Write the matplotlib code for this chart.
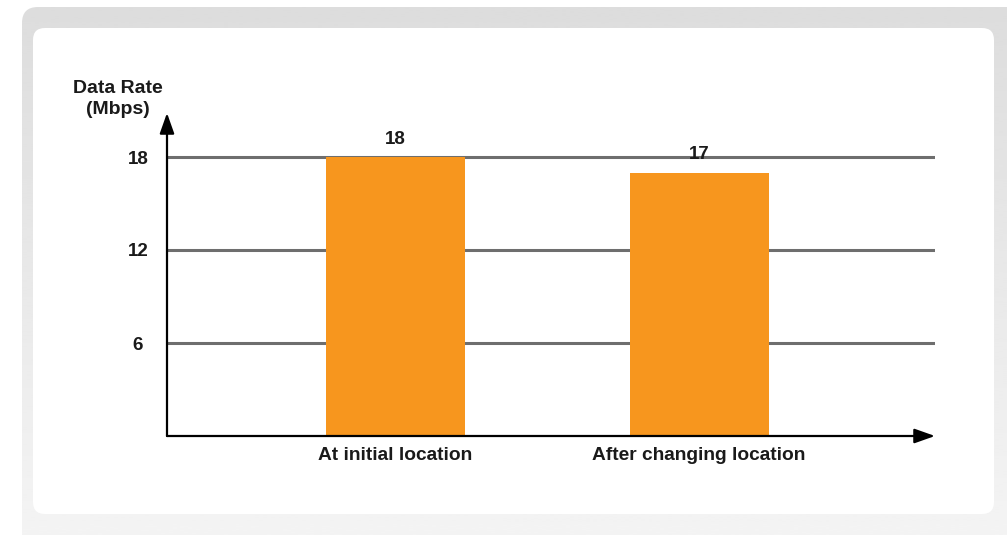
import numpy as np
import matplotlib.pyplot as plt
from matplotlib.patches import FancyBboxPatch

categories = ["At initial location", "After changing location"]
data_rate = [18, 17]
y_ticks = [6, 12, 18]
y_title = "Data Rate\n(Mbps)"

W, H, DPI = 1007, 535, 100
BAR_COLOR = "#F7961E"
GRID_COLOR = "#6E6E6E"
TEXT_COLOR = "#1a1a1a"
FONT = "Liberation Sans"

fig = plt.figure(figsize=(W / DPI, H / DPI), dpi=DPI)
fig.patch.set_facecolor("white")

# background layer in pixel coordinates (origin top-left)
bg = fig.add_axes([0, 0, 1, 1], zorder=-5)
bg.set_xlim(0, W)
bg.set_ylim(H, 0)
bg.axis("off")

def rounded(x0, y0, x1, y1, rad, **kw):
    return FancyBboxPatch((x0, y0), x1 - x0, y1 - y0,
                          boxstyle=f"round,pad=0,rounding_size={rad}", **kw)

# card frame: grey fading downwards
frame = rounded(22, 7, 1040, 570, 16, facecolor="none", edgecolor="none")
bg.add_patch(frame)
shade = np.linspace(0.865, 0.955, 256).reshape(-1, 1)
img = bg.imshow(shade, cmap="gray", vmin=0, vmax=1, aspect="auto",
                extent=(0, W, H, 7), interpolation="bilinear")
img.set_clip_path(frame)
bg.add_patch(rounded(33, 28, 994, 514, 12, facecolor="white",
                     edgecolor="none", zorder=3))

# axes placed so the y arrow tip sits at the top edge
x_axis_px, y_top_px = 436, 113
left_px, right_px = 167, 935
ax = fig.add_axes([left_px / W, 1 - x_axis_px / H,
                   (right_px - left_px) / W, (x_axis_px - y_top_px) / H])
ax.set_zorder(1)
ax.set_facecolor("none")

px_per_unit = (x_axis_px - 157) / 18.0
ax.set_ylim(0, (x_axis_px - y_top_px) / px_per_unit)

centers = [0, 1]
step = 699 - 395.5
ax.set_xlim(-(395.5 - left_px) / step, 1 + (right_px - 699) / step)

for v in y_ticks:
    ax.axhline(v, color=GRID_COLOR, lw=2.2, zorder=1)

ax.bar(centers, data_rate, width=139 / step, color=BAR_COLOR, zorder=2)

for x, v in zip(centers, data_rate):
    ax.annotate(f"{v}", (x, v), xytext=(0, 6.5), textcoords="offset points",
                ha="center", va="bottom", fontsize=13.5, fontweight="bold",
                family=FONT, color=TEXT_COLOR)

for s in ax.spines.values():
    s.set_visible(False)

# axis arrows
arrow = dict(arrowstyle="-|>,head_length=0.48,head_width=0.17", color="black",
             lw=1.6, mutation_scale=26, shrinkA=0, shrinkB=0)
ax.annotate("", xy=(0, 1), xytext=(0, 0), xycoords="axes fraction",
            arrowprops=arrow, zorder=5)
ax.annotate("", xy=(1, 0), xytext=(0, 0), xycoords="axes fraction",
            arrowprops=arrow, zorder=5)

ax.set_yticks(y_ticks)
ax.set_yticklabels([str(t) for t in y_ticks], ha="center", fontsize=13.5,
                   fontweight="bold", family=FONT, color=TEXT_COLOR)
ax.tick_params(axis="y", length=0, pad=21)
ax.set_xticks(centers)
ax.set_xticklabels(categories, fontsize=13.8, fontweight="bold",
                   family=FONT, color=TEXT_COLOR)
ax.tick_params(axis="x", length=0, pad=8)

fig.text(118 / W, 1 - 99 / H, y_title, ha="center", va="center",
         fontsize=14, fontweight="bold", family=FONT, color=TEXT_COLOR,
         linespacing=1.25)

fig.savefig("out.png", dpi=DPI)
